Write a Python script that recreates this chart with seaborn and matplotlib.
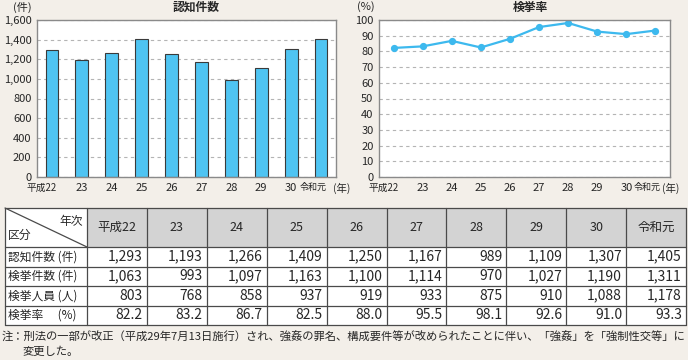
# 認知件数・検挙率の推移（グラフ＋表）

import matplotlib
matplotlib.use('Agg')
import matplotlib.pyplot as plt
import matplotlib.transforms as mtransforms
from matplotlib.patches import Rectangle
from matplotlib.ticker import StrMethodFormatter, FixedLocator
import seaborn as sns
import pandas as pd

# データ
years = ['平成22', '23', '24', '25', '26', '27', '28', '29', '30', '令和元']
ninchi = [1293, 1193, 1266, 1409, 1250, 1167, 989, 1109, 1307, 1405]
kenkyo = [1063, 993, 1097, 1163, 1100, 1114, 970, 1027, 1190, 1311]
jinin = [803, 768, 858, 937, 919, 933, 875, 910, 1088, 1178]
rate = [82.2, 83.2, 86.7, 82.5, 88.0, 95.5, 98.1, 92.6, 91.0, 93.3]
row_labels = ['認知件数 (件)', '検挙件数 (件)', '検挙人員 (人)', '検挙率　 (%)']

df = pd.DataFrame({'year': years, 'ninchi': ninchi, 'rate': rate})

sns.set_style('white')
plt.rcParams['font.family'] = ['Noto Sans CJK JP', 'DejaVu Sans']

BG = '#f3efe9'
BAR = '#4fc4f2'
LINE = '#3db9ee'
GRID = '#b4b4b4'
SPINE = '#8a8a8a'

W, H = 688, 360
fig = plt.figure(figsize=(W / 100, H / 100), dpi=100, facecolor=BG)


def px_axes(x0, y0, x1, y1):
    return fig.add_axes([x0 / W, 1 - y1 / H, (x1 - x0) / W, (y1 - y0) / H])


def style_axis(ax, ymax, step, fmt):
    ax.set_facecolor('white')
    ax.set_xlim(-0.5, 9.5)
    ax.set_ylim(0, ymax)
    ax.set_xlabel('')
    ax.set_ylabel('')
    ax.set_yticks(range(0, ymax + 1, step))
    ax.yaxis.set_major_formatter(StrMethodFormatter(fmt))
    ax.yaxis.grid(True, linestyle=(0, (3, 3)), color=GRID, linewidth=0.8)
    ax.xaxis.grid(False)
    ax.set_axisbelow(True)
    for s in ax.spines.values():
        s.set_color(SPINE)
        s.set_linewidth(1)
    ax.set_xticks(range(len(years)))
    ax.set_xticklabels(years)
    ax.xaxis.set_minor_locator(FixedLocator([i + 0.5 for i in range(len(years) - 1)]))
    ax.tick_params(axis='x', which='major', length=0, pad=4, labelsize=8)
    ax.tick_params(axis='x', which='minor', length=3, direction='in', color='#555555', width=0.8)
    ax.tick_params(axis='y', length=0, pad=4, labelsize=8)
    labs = ax.get_xticklabels()
    for lab, dx, fs in ((labs[0], -10, 7), (labs[-1], -8, 6.5)):
        lab.set_fontsize(fs)
        lab.set_transform(lab.get_transform() + mtransforms.ScaledTranslation(dx / 100, 0, fig.dpi_scale_trans))


# 認知件数（棒グラフ）
ax1 = px_axes(37, 20, 336, 177)
sns.barplot(data=df, x='year', y='ninchi', color=BAR, saturation=1,
            edgecolor='#3a3a3a', linewidth=0.8, width=0.43, ax=ax1)
style_axis(ax1, 1600, 200, '{x:,.0f}')

# 検挙率（折れ線グラフ）
ax2 = px_axes(379, 20, 670, 177)
sns.pointplot(data=df, x='year', y='rate', color=LINE, errorbar=None,
              markers='o', markersize=4, linewidth=1.6, ax=ax2)
style_axis(ax2, 100, 10, '{x:.0f}')

# 軸ラベル・タイトル
fig.text(13 / W, 1 - 7 / H, '(件)', fontsize=8, ha='left', va='center')
fig.text(196 / W, 1 - 7 / H, '認知件数', fontsize=8.5, fontweight='bold', ha='center', va='center')
fig.text(333 / W, 1 - 188 / H, '(年)', fontsize=7.5, ha='left', va='center')
fig.text(357 / W, 1 - 7 / H, '(%)', fontsize=8, ha='left', va='center')
fig.text(530 / W, 1 - 7 / H, '検挙率', fontsize=8.5, fontweight='bold', ha='center', va='center')
fig.text(662 / W, 1 - 188 / H, '(年)', fontsize=7.5, ha='left', va='center')

# 表
axt = fig.add_axes([0, 0, 1, 1])
axt.set_xlim(0, W)
axt.set_ylim(H, 0)
axt.axis('off')

col_x = [5, 87] + [87 + 59.9 * i for i in range(1, 11)]
row_y = [208, 247, 266.5, 286, 305.5, 325]
LC = '#4a4a4a'

# 見出し行
for i, yl in enumerate(years):
    axt.add_patch(Rectangle((col_x[i + 1], row_y[0]), col_x[i + 2] - col_x[i + 1],
                            row_y[1] - row_y[0], facecolor='#d3d3d3', edgecolor='none'))
    axt.text((col_x[i + 1] + col_x[i + 2]) / 2, (row_y[0] + row_y[1]) / 2, yl,
             fontsize=9, ha='center', va='center')
axt.add_patch(Rectangle((col_x[0], row_y[0]), col_x[1] - col_x[0], row_y[1] - row_y[0],
                        facecolor='white', edgecolor='none'))
axt.add_patch(Rectangle((col_x[1], row_y[1]), col_x[-1] - col_x[1], row_y[-1] - row_y[1],
                        facecolor='white', edgecolor='none'))
axt.add_patch(Rectangle((col_x[0], row_y[1]), col_x[1] - col_x[0], row_y[-1] - row_y[1],
                        facecolor='white', edgecolor='none'))
axt.plot([col_x[0], col_x[1]], [row_y[0], row_y[1]], color=LC, lw=0.9)
axt.text(col_x[1] - 4, 221, '年次', fontsize=8.5, ha='right', va='center')
axt.text(col_x[0] + 3, 235, '区分', fontsize=8.5, ha='left', va='center')

# データ行
rows = [
    [f'{v:,}' for v in ninchi],
    [f'{v:,}' for v in kenkyo],
    [f'{v:,}' for v in jinin],
    [f'{v:.1f}' for v in rate],
]
for r, (lab, vals) in enumerate(zip(row_labels, rows)):
    yc = (row_y[r + 1] + row_y[r + 2]) / 2
    axt.text(col_x[0] + 3, yc, lab, fontsize=8.5, ha='left', va='center')
    for i, v in enumerate(vals):
        axt.text(col_x[i + 2] - 4, yc, v, fontsize=10, ha='right', va='center')

# 罫線
for x in col_x:
    axt.plot([x, x], [row_y[0], row_y[-1]], color=LC, lw=0.9)
for y in row_y:
    axt.plot([col_x[0], col_x[-1]], [y, y], color=LC, lw=0.9)

# 注記
fig.text(2 / W, 1 - 337 / H,
         '注：刑法の一部が改正（平成29年7月13日施行）され、強姦の罪名、構成要件等が改められたことに伴い、「強姦」を「強制性交等」に',
         fontsize=8.15, ha='left', va='center')
fig.text(22 / W, 1 - 352 / H, '変更した。', fontsize=8.15, ha='left', va='center')

fig.savefig('out.png', dpi=100, facecolor=BG)
